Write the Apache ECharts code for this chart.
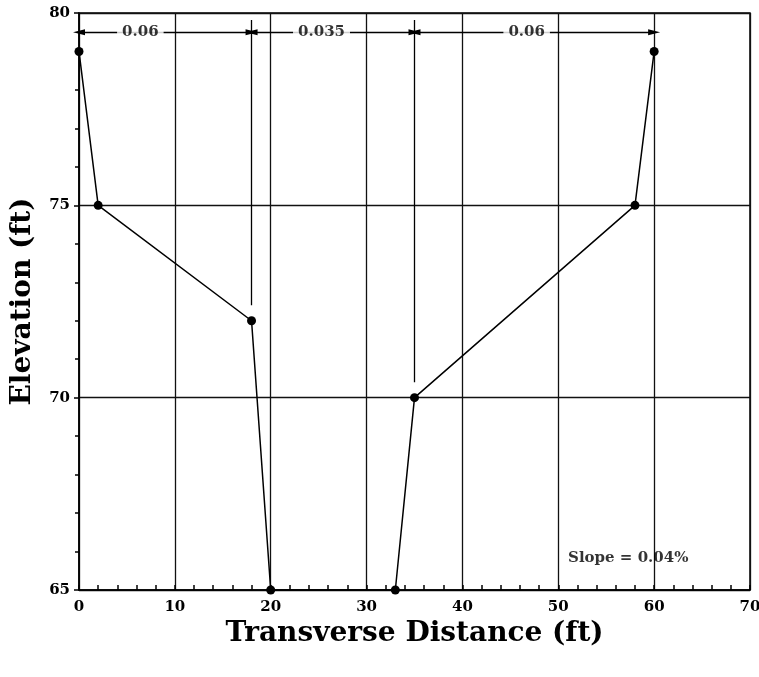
<!DOCTYPE html>
<html>
<head>
<meta charset="utf-8">
<script src="https://cdn.jsdelivr.net/npm/echarts@6/dist/echarts.min.js"></script>
<style>html,body{margin:0;padding:0;background:#fff}#c{width:759px;height:677px}</style>
</head>
<body>
<div id="c"></div>
<script>
// Channel cross-section points
const distance = [0, 2, 18, 20, 33, 35, 58, 60];
const elevation = [79, 75, 72, 65, 65, 70, 75, 79];
// Roughness zone boundaries and labels
const zoneBounds = [0, 18, 35, 60];
const zoneLabels = ['0.06', '0.035', '0.06'];
const zoneLabelX = [6.4, 25.3, 46.7];
const dimY = 79.5;
const dividerX = [18, 35];
const dividerTop = [79.82, 79.82];
const dividerBottom = [72.4, 70.4];
const slopeText = 'Slope = 0.04%';
const slopePos = [57.3, 65.83];

const FONT = 'DejaVu Serif';
const chart = echarts.init(document.getElementById('c'), null, {renderer: 'canvas'});

const segs = [];
for (let i = 0; i < zoneLabels.length; i++) {
  segs.push([{coord: [zoneBounds[i], dimY]}, {coord: [zoneBounds[i + 1], dimY]}]);
}
const divs = dividerX.map((x, i) => [
  {coord: [x, dividerTop[i]], symbol: 'none'},
  {coord: [x, dividerBottom[i]], symbol: 'none'}
]);

chart.setOption({
  animation: false,
  backgroundColor: '#fff',
  grid: {left: 79, top: 13, right: 9, bottom: 87, containLabel: false, outerBoundsMode: 'none',
    show: true, borderColor: '#000', borderWidth: 1.5, backgroundColor: 'transparent'},
  xAxis: {
    type: 'value', min: 0, max: 70, interval: 10,
    name: 'Transverse Distance (ft)', nameLocation: 'middle', nameGap: 28,
    nameTextStyle: {fontFamily: FONT, fontWeight: 'bold', fontSize: 28, color: '#000'},
    axisLine: {show: true, lineStyle: {color: '#000', width: 1.5}},
    axisTick: {show: true, inside: true, length: 5, lineStyle: {color: '#000', width: 1.5}},
    minorTick: {show: true, splitNumber: 5, length: 5, lineStyle: {color: '#000', width: 1.5}},
    axisLabel: {fontFamily: FONT, fontWeight: 'bold', fontSize: 15, color: '#000', margin: 10, hideOverlap: false},
    splitLine: {show: true, lineStyle: {color: '#111', width: 1.3}}
  },
  yAxis: {
    type: 'value', min: 65, max: 80, interval: 5,
    name: 'Elevation (ft)', nameLocation: 'middle', nameGap: 42, nameRotate: 90,
    nameTextStyle: {fontFamily: FONT, fontWeight: 'bold', fontSize: 28, color: '#000'},
    axisLine: {show: true, lineStyle: {color: '#000', width: 1.5}},
    axisTick: {show: true, inside: false, length: 5, lineStyle: {color: '#000', width: 1.5}},
    minorTick: {show: true, splitNumber: 5, length: 4, lineStyle: {color: '#000', width: 1.5}},
    axisLabel: {fontFamily: FONT, fontWeight: 'bold', fontSize: 15, color: '#000', margin: 9},
    splitLine: {show: true, lineStyle: {color: '#111', width: 1.3}}
  },
  series: [
    {
      type: 'line',
      data: distance.map((d, i) => [d, elevation[i]]),
      symbol: 'circle', symbolSize: 9,
      lineStyle: {color: '#000', width: 1.5},
      itemStyle: {color: '#000'},
      z: 5
    },
    {
      type: 'line', data: [], silent: true,
      markLine: {
        silent: true, animation: false,
        symbol: ['triangle', 'triangle'], symbolSize: [6, 12],
        label: {show: false},
        lineStyle: {color: '#000', width: 1.3, type: 'solid'},
        emphasis: {disabled: true},
        data: segs.concat(divs)
      }
    },
    {
      type: 'scatter', silent: true, symbolSize: 0, z: 6,
      data: zoneLabels.map((t, i) => ({value: [zoneLabelX[i], dimY], name: t}))
        .concat([{value: slopePos, name: slopeText, label: {backgroundColor: 'transparent', padding: 0}}]),
      label: {
        show: true, position: 'inside', formatter: p => p.name,
        fontFamily: FONT, fontWeight: 'bold', fontSize: 15, color: '#000',
        backgroundColor: '#fff', padding: [0, 5]
      }
    }
  ]
});
</script>
</body>
</html>
